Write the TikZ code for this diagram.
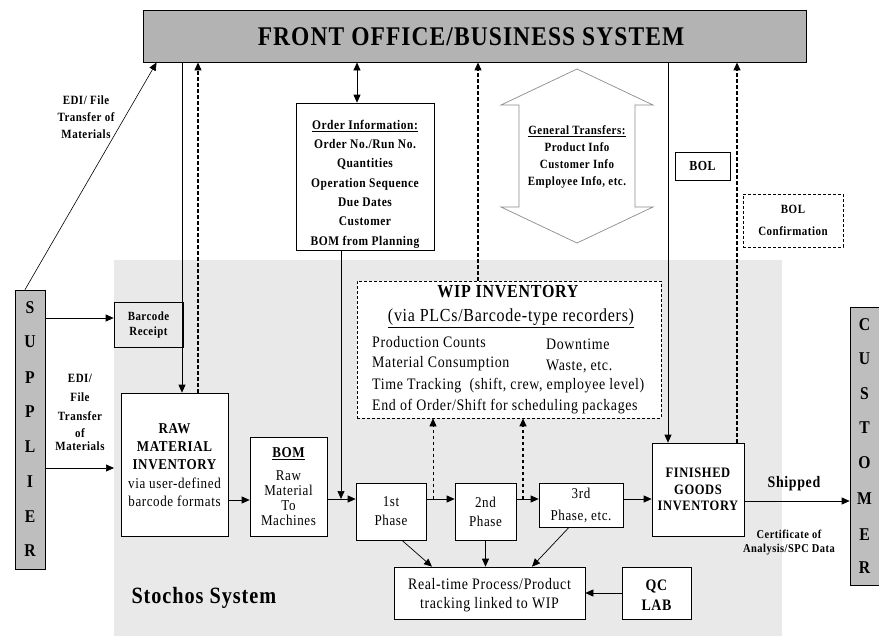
\documentclass[tikz,border=0pt]{standalone}
\usepackage{fontspec}
\setmainfont{Liberation Serif}[LetterSpace=4, FakeStretch=0.87]
\usetikzlibrary{arrows.meta,calc}
\definecolor{bannergray}{HTML}{B3B3B3}
\definecolor{sidegray}{HTML}{BEBEBE}
\definecolor{regiongray}{HTML}{E9E9E9}
\tikzset{
  box/.style={draw=black, fill=white, line width=0.7pt, inner sep=0pt, align=center},
  dbox/.style={box, dash pattern=on 3pt off 2pt},
  arr/.style={line width=0.7pt, -{Triangle[length=8pt,width=7pt]}},
  darr/.style={arr, dash pattern=on 3.5pt off 2.5pt},
  tarr/.style={darr, line width=1.3pt},
  bb/.style={font=\bfseries\fontsize{12.6}{17}\selectfont, align=center, inner sep=0pt},
  txt/.style={align=center, inner sep=0pt},
}
\begin{document}
\begin{tikzpicture}[x=1pt,y=-1pt]
\useasboundingbox (0,0) rectangle (879,637);
% Stochos region
\node[fill=regiongray, minimum width=668pt, minimum height=376pt, inner sep=0pt, anchor=north west] (stochos) at (114,260) {};
\node[anchor=west, font=\bfseries\fontsize{23.3}{28}\selectfont] (stlabel) at (128,598) {Stochos System};
% Banner
\node[box, fill=bannergray, minimum width=663pt, minimum height=52pt, line width=0.9pt] (front) at (474.5,36) {};
\node[font=\bfseries\fontsize{27}{30}\selectfont] (fronttxt) at (471,37) {FRONT OFFICE/BUSINESS SYSTEM};
% Supplier / Customer
\node[box, fill=sidegray, minimum width=30pt, minimum height=279pt] (sup) at (30,429.5) {};
\foreach \l/\yy [count=\i] in {S/308,U/342,P/378,P/412,L/447,I/482,E/517,R/551}
  \node[font=\bfseries\fontsize{18}{20}\selectfont] (supl\i) at (30,\yy) {\l};
\node[box, fill=sidegray, minimum width=29pt, minimum height=278pt] (cust) at (864.5,446) {};
\foreach \l/\yy [count=\i] in {C/325,U/359,S/394,T/428,O/463,M/499,E/535,R/568}
  \node[font=\bfseries\fontsize{18}{20}\selectfont] (custl\i) at (864.5,\yy) {\l};
% Boxes
\node[box, fill=regiongray, minimum width=69pt, minimum height=45pt, font=\bfseries\fontsize{12.5}{15}\selectfont] (barcode) at (148.5,324.5) {Barcode\\Receipt};
\node[box, minimum width=107pt, minimum height=143pt] (raw) at (174.5,464.5) {};
\node[txt, font=\fontsize{15}{18.2}\selectfont] (rawtxt) at (174.5,465) {\bfseries RAW\\\bfseries MATERIAL\\\bfseries INVENTORY\\via user-defined\\barcode formats};
\node[box, minimum width=77pt, minimum height=99pt] (bom) at (288.5,486.5) {};
\node[txt, font=\fontsize{15}{15.2}\selectfont] (bomtxt) at (288.5,487) {\bfseries\underline{BOM}\\[7pt]Raw\\Material\\To\\Machines};
\node[box, minimum width=70pt, minimum height=57pt, font=\fontsize{15}{19}\selectfont] (p1) at (391,511.5) {1st\\Phase};
\node[box, minimum width=61pt, minimum height=57pt, font=\fontsize{15}{19}\selectfont] (p2) at (485.5,511.5) {2nd\\Phase};
\node[box, minimum width=84pt, minimum height=44pt, font=\fontsize{15}{22}\selectfont] (p3) at (581,505) {3rd\\Phase, etc.};
\node[box, minimum width=92pt, minimum height=93pt, font=\bfseries\fontsize{14.4}{16.5}\selectfont] (fg) at (698,489.5) {FINISHED\\GOODS\\INVENTORY};
\node[box, minimum width=191pt, minimum height=52pt] (rt) at (489.5,593) {};
\node[txt, font=\fontsize{16}{19}\selectfont] (rttxt) at (489.5,595) {Real-time Process/Product\\tracking linked to WIP};
\node[box, minimum width=69pt, minimum height=52pt] (qc) at (656.5,593) {};
\node[txt, font=\bfseries\fontsize{16}{20}\selectfont] (qctxt) at (656.5,595) {QC\\LAB};
% WIP
\node[dbox, minimum width=304pt, minimum height=137pt] (wip) at (509,349.5) {};
\node[font=\bfseries\fontsize{18.4}{20}\selectfont, inner sep=0pt] (wipt) at (508,292) {WIP INVENTORY};
\node[font=\fontsize{18.4}{20}\selectfont, inner sep=0pt] (wips) at (511,318) {\underline{(via PLCs/Barcode-type recorders)}};
\node[anchor=west, font=\fontsize{16}{18}\selectfont, inner sep=0pt] (w1) at (372,342) {Production Counts};
\node[anchor=west, font=\fontsize{16}{18}\selectfont, inner sep=0pt] (w2) at (546,344) {Downtime};
\node[anchor=west, font=\fontsize{16}{18}\selectfont, inner sep=0pt] (w3) at (372,364) {Material Consumption};
\node[anchor=west, font=\fontsize{16}{18}\selectfont, inner sep=0pt] (w4) at (546,366) {Waste, etc.};
\node[anchor=west, font=\fontsize{16}{18}\selectfont, inner sep=0pt] (w5) at (372,386) {Time Tracking\ \ (shift, crew, employee level)};
\node[anchor=west, font=\fontsize{16}{18}\selectfont, inner sep=0pt] (w6) at (372,407) {End of Order/Shift for scheduling packages};
% Order information
\node[box, minimum width=138pt, minimum height=147pt] (order) at (365,176.5) {};
\node[txt, font=\bfseries\fontsize{13.2}{19.3}\selectfont] (ordertxt) at (365,184) {\underline{Order Information:}\\Order No./Run No.\\Quantities\\Operation Sequence\\Due Dates\\Customer\\BOM from Planning};
% General transfers big arrow
\draw[draw=black!45, fill=white, line width=0.7pt] (577,69) -- (653,105) -- (635,105) -- (635,207) -- (653,207) -- (577,243) -- (501,207) -- (519,207) -- (519,105) -- (501,105) -- cycle;
\node[bb] (gen) at (577,157) {\underline{General Transfers:}\\Product Info\\Customer Info\\Employee Info, etc.};
% BOL
\node[box, minimum width=55pt, minimum height=28pt, font=\bfseries\fontsize{13.8}{15}\selectfont] (bol) at (702.5,166) {BOL};
\node[dbox, minimum width=100pt, minimum height=53pt, font=\bfseries\fontsize{12.6}{22}\selectfont] (bolc) at (793,220.5) {BOL\\Confirmation};
% Labels
\node[bb] (edi1) at (86,117) {EDI/ File\\Transfer of\\Materials};
\node[bb, font=\bfseries\fontsize{12.6}{19}\selectfont] (edi2) at (80,412) {EDI/\\File\\Transfer\\[-2pt]of\\[-6pt]Materials};
\node[font=\bfseries\fontsize{16}{18}\selectfont, inner sep=0pt] (ship) at (794,484) {Shipped};
\node[bb, font=\bfseries\fontsize{12}{14}\selectfont] (cert) at (789,543) {Certificate of\\Analysis/SPC Data};
% Coordinates
\coordinate (bw) at ([yshift=6.5pt]barcode.west);
\coordinate (rw) at (raw.west |- 0,468);
\coordinate (rn1) at ([xshift=7.5pt]raw.north);
\coordinate (rn2) at ([xshift=23.5pt]raw.north);
\coordinate (re) at ([yshift=-35.5pt]raw.east);
\coordinate (p1w) at ([yshift=12.5pt]p1.west);
\coordinate (os) at ([xshift=-24pt]order.south);
\coordinate (on) at ([xshift=-8pt]order.north);
\coordinate (wd1) at ([xshift=-76pt]wip.south);
\coordinate (wd2) at ([xshift=14pt]wip.south);
\coordinate (wn) at ([xshift=-31pt]wip.north);
\coordinate (fn1) at ([xshift=-30pt]fg.north);
\coordinate (fn2) at ([xshift=39pt]fg.north);
\coordinate (fe) at ([yshift=-11.5pt]fg.east);
\coordinate (sn) at ([xshift=-5pt]sup.north);
\coordinate (fsw) at ([xshift=14pt]front.south west);
% Connectors
\draw[line width=0.6pt, -{Triangle[length=8pt,width=7pt]}] (sn) -- (fsw);
\draw[arr] (sup.east |- bw) -- (bw);
\draw[arr] (sup.east |- rw) -- (stochos.west |- rw);
\draw[arr] (front.south -| rn1) -- (rn1);
\draw[tarr] (rn2) -- (front.south -| rn2);
\draw[arr] (re) -- (re -| bom.west);
\draw[arr] (bom.east |- p1w) -- (p1w);
\draw[arr] (os) -- (os |- p1w);
\draw[line width=0.7pt, {Triangle[length=8pt,width=7pt]}-{Triangle[length=8pt,width=7pt]}] (front.south -| on) -- (on);
\draw[arr] (p1.east |- p1w) -- (p2.west |- p1w);
\draw[arr] (p2.east |- p1w) -- (p3.west |- p1w);
\draw[arr] (p3.east |- p1w) -- (fg.west |- p1w);
\draw[darr] (wd1 |- p1w) -- (wd1);
\draw[tarr] (wd2 |- p1w) -- (wd2);
\draw[tarr] (wn) -- (front.south -| wn);
\draw[arr] (front.south -| fn1) -- (fn1);
\draw[tarr] (fn2) -- (front.south -| fn2);
\draw[arr] (fe) -- (fe -| cust.west);
\draw[arr] ([xshift=11pt]p1.south) -- ([xshift=-57.5pt]rt.north);
\draw[arr] (p2.south) -- (p2.south |- rt.north);
\draw[arr] ([xshift=-12pt]p3.south) -- ([xshift=42.5pt]rt.north);
\draw[arr] (qc.west) -- (rt.east);
\end{tikzpicture}
\end{document}
